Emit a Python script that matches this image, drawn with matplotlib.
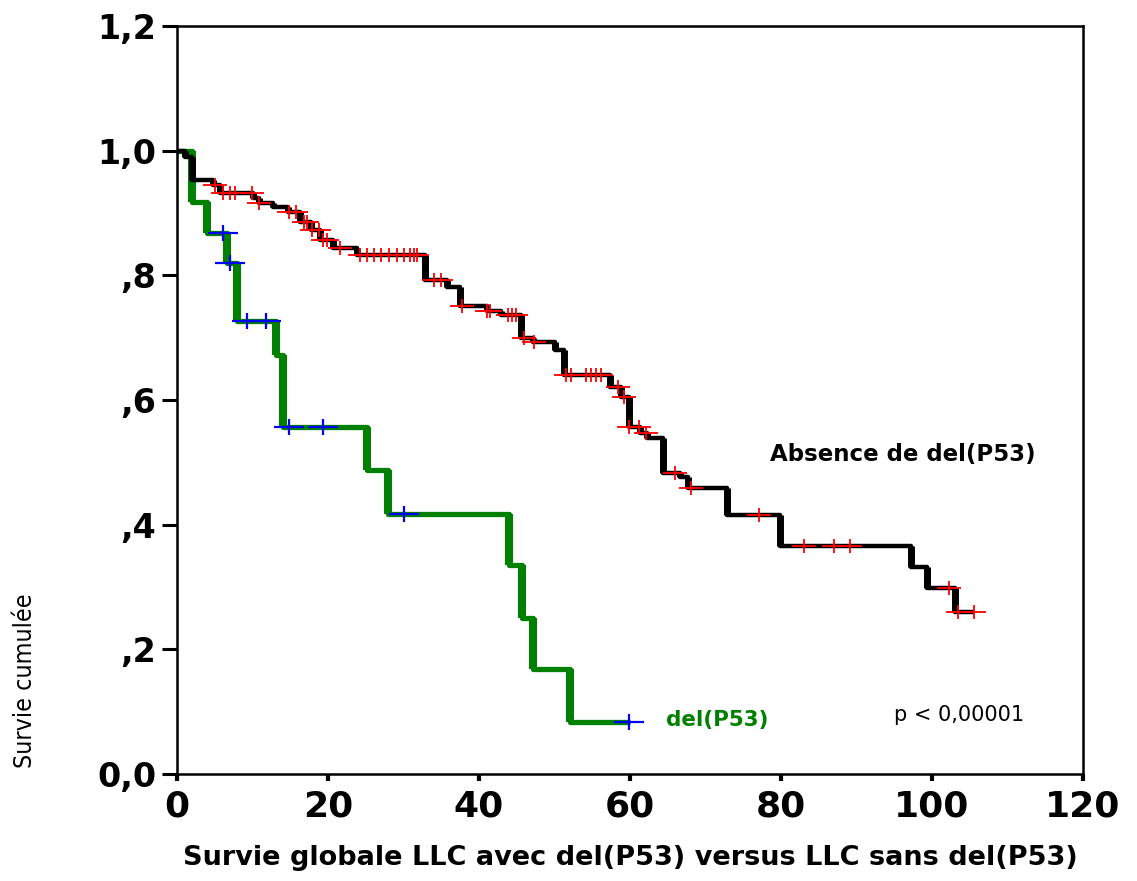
import numpy as np
import matplotlib
matplotlib.use("Agg")
import matplotlib.pyplot as plt
from matplotlib.path import Path

# Kaplan-Meier steps: time of each drop and survival after it
abs_t = [0, 1.0, 2.0, 4.8, 5.7, 10.0, 10.8, 12.7, 14.7, 16.3, 17.7, 19.0, 20.7, 23.9,
         32.8, 35.7, 37.5, 41.0, 42.9, 45.5, 47.2, 50.1, 51.2, 57.4, 58.8, 59.8, 61.3,
         62.2, 64.4, 66.6, 67.7, 72.9, 79.9, 97.2, 99.4, 103.0]
abs_s = [1.0, 0.99, 0.953, 0.945, 0.932, 0.924, 0.916, 0.91, 0.902, 0.886, 0.873, 0.857,
         0.844, 0.833, 0.793, 0.782, 0.75, 0.742, 0.737, 0.70, 0.693, 0.68, 0.64, 0.621,
         0.605, 0.557, 0.547, 0.539, 0.483, 0.477, 0.459, 0.416, 0.366, 0.332, 0.298, 0.26]
abs_end = 105.5
abs_cens = [5.0, 6.1, 7.0, 7.7, 9.9, 10.8, 14.8, 15.7, 16.8, 17.2, 17.9, 18.8, 19.4, 19.9,
            21.6, 24.3, 25.2, 26.1, 27.0, 28.1, 29.2, 30.0, 30.9, 31.4, 31.8, 34.0, 34.9,
            37.8, 41.1, 41.5, 43.8, 44.4, 44.9, 46.0, 47.3, 51.5, 52.2, 54.2, 54.8, 55.5,
            56.2, 58.4, 59.2, 59.9, 61.2, 62.1, 65.9, 68.1, 77.1, 83.0, 87.0, 89.2,
            102.3, 103.4, 105.5]

del_t = [0, 2.0, 4.0, 6.6, 7.9, 13.1, 14.0, 25.1, 28.0, 44.0, 45.7, 47.2, 52.0]
del_s = [1.0, 0.917, 0.868, 0.82, 0.727, 0.672, 0.557, 0.488, 0.417, 0.335, 0.25, 0.168, 0.083]
del_end = 60.0
del_cens = [6.1, 7.0, 9.3, 11.8, 14.8, 19.3, 30.0, 59.8]

x_ticks = [0, 20, 40, 60, 80, 100, 120]
y_ticks = [0.0, 0.2, 0.4, 0.6, 0.8, 1.0, 1.2]
y_labels = ["0,0", ",2", ",4", ",6", ",8", "1,0", "1,2"]


def surv_at(times, surv, t):
    idx = np.searchsorted(times, t, side="right") - 1
    return np.array(surv)[idx]


def draw_km(ax, times, surv, end, color, lw_h, lw_v, z):
    tx = list(times) + [end]
    sy = list(surv) + [surv[-1]]
    ax.step(tx, sy, where="post", color=color, linewidth=lw_h, zorder=z, solid_capstyle="butt")
    # drops look heavier than the flat parts in the original
    ax.vlines(times[1:], surv[1:], surv[:-1], color=color, linewidth=lw_v, zorder=z)


# wide "+" used for censored cases
cross = Path([(-1, 0), (1, 0), (0, -0.58), (0, 0.58)],
             [Path.MOVETO, Path.LINETO, Path.MOVETO, Path.LINETO])

fig = plt.figure(figsize=(11.37, 8.81), dpi=100)
ax = fig.add_axes([0.1557, 0.1215, 0.7968, 0.849])

draw_km(ax, del_t, del_s, del_end, "#008000", 3.8, 5.8, 2)
ax.plot(del_cens, surv_at(del_t, del_s, del_cens), linestyle="none", marker=cross,
        markersize=21, markeredgewidth=1.6, color="#0000ff", zorder=3)

draw_km(ax, abs_t, abs_s, abs_end, "black", 3.2, 5.0, 4)
ax.plot(abs_cens, surv_at(abs_t, abs_s, abs_cens), linestyle="none", marker=cross,
        markersize=17, markeredgewidth=1.3, color="#ff0000", zorder=5)

ax.set_xlim(0, 120)
ax.set_ylim(0, 1.2)
ax.set_xticks(x_ticks)
ax.set_xticklabels([str(v) for v in x_ticks])
ax.set_yticks(y_ticks)
ax.set_yticklabels(y_labels)
ax.tick_params(axis="y", direction="out", length=11, width=2.2, pad=4)
ax.tick_params(axis="x", direction="out", length=5, width=3, pad=6)
for lab in ax.get_xticklabels():
    lab.set_fontsize(26)
    lab.set_fontweight("bold")
for lab in ax.get_yticklabels():
    lab.set_fontsize(24)
    lab.set_fontweight("bold")
for side in ["left", "bottom", "top", "right"]:
    ax.spines[side].set_linewidth(1.8)
    ax.spines[side].set_color("black")

ax.text(78.5, 0.512, "Absence de del(P53)", fontsize=16.5, fontweight="bold",
        ha="left", va="center", color="black")
ax.text(64.8, 0.087, "del(P53)", fontsize=15.5, fontweight="bold",
        ha="left", va="center", color="#008000")
ax.text(95, 0.095, "p < 0,00001", fontsize=15, ha="left", va="center", color="black")

fig.text(25 / 1137, 1 - 681 / 881, "Survie cumulée", rotation=90, ha="center", va="center",
         fontsize=18, family="DejaVu Sans", fontstretch="condensed")
fig.text(630 / 1137, 1 - 858 / 881, "Survie globale LLC avec del(P53) versus LLC sans del(P53)",
         ha="center", va="center", fontsize=19.5, fontweight="bold")

fig.savefig("out.png", dpi=100)
